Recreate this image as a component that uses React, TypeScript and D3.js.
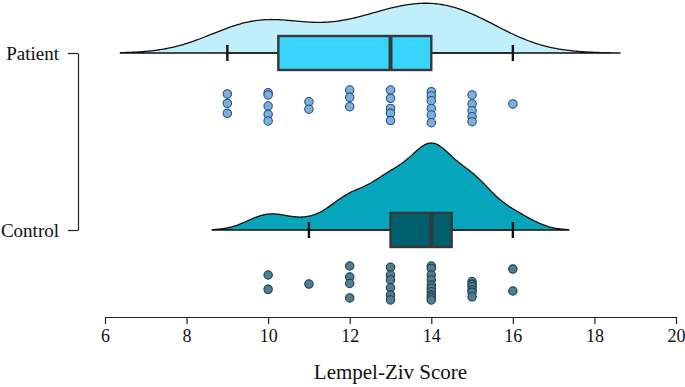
import React, { useEffect, useRef } from "react";
import * as d3 from "d3";

// raw scores
const groups = ["Patient", "Control"];
const patientScores = [
  9, 9, 9, 10, 10, 10, 10, 10, 11, 11, 12, 12, 12, 13, 13, 13, 13, 13,
  14, 14, 14, 14, 14, 14, 15, 15, 15, 15, 15, 16,
];
const patientJitter = [
  -0.71, -0.16, 0.43, -0.78, -0.65, 0, 0.49, 0.88, -0.25, 0.19, -0.94, -0.51,
  0.04, -0.94, -0.45, 0.14, 0.43, 0.86, -0.84, -0.59, -0.31, 0.14, 0.53, 0.98,
  -0.65, -0.12, 0.28, 0.63, 0.92, -0.12,
];
const controlScores = [
  10, 10, 11, 12, 12, 12, 12, 13, 13, 13, 13, 13, 13, 14, 14, 14, 14, 14, 14,
  14, 14, 14, 14, 15, 15, 15, 15, 15, 15, 16, 16,
];
const controlJitter = [
  -0.47, 0.37, 0.06, -1.0, -0.35, 0.03, 0.88, -0.92, -0.47, -0.18, 0.28, 0.71,
  1.0, -1.0, -0.86, -0.47, -0.18, 0.12, 0.31, 0.51, 0.71, 0.86, 1.0, -0.08,
  0.08, 0.22, 0.41, 0.55, 0.81, -0.82, 0.47,
];
const xTicks = [6, 8, 10, 12, 14, 16, 18, 20];
const xLabel = "Lempel-Ziv Score";

const densityFill = ["#c1eefb", "#05a5bb"];
const boxFill = ["#39d4fc", "#005f6c"];
const dotFill = ["#7eafd8", "#4e7f8c"];
const dotStroke = ["#24508a", "#1c3d53"];

const W = 685;
const H = 387;
const font = "'Liberation Serif', 'Times New Roman', serif";

// gaussian kde with R's nrd0 bandwidth
const kde = (values: number[]) => {
  const s = values.slice().sort(d3.ascending);
  const n = s.length;
  const q1 = d3.quantile(s, 0.25)!;
  const q3 = d3.quantile(s, 0.75)!;
  const sd = d3.deviation(s)!;
  const bw = 0.9 * Math.min(sd, (q3 - q1) / 1.34) * Math.pow(n, -0.2);
  const lo = s[0] - 2.7 * bw;
  const hi = s[n - 1] + 2.7 * bw;
  const pts: [number, number][] = d3.range(256).map((i) => {
    const x = lo + ((hi - lo) * i) / 255;
    const dens =
      d3.sum(s, (v) => Math.exp(-0.5 * ((x - v) / bw) ** 2)) /
      (n * bw * Math.sqrt(2 * Math.PI));
    return [x, dens];
  });
  return pts;
};

const boxStats = (values: number[]) => {
  const s = values.slice().sort(d3.ascending);
  const q1 = d3.quantile(s, 0.25)!;
  const med = d3.quantile(s, 0.5)!;
  const q3 = d3.quantile(s, 0.75)!;
  const iqr = q3 - q1;
  const lo = d3.min(s.filter((v) => v >= q1 - 1.5 * iqr))!;
  const hi = d3.max(s.filter((v) => v <= q3 + 1.5 * iqr))!;
  return { q1, med, q3, lo, hi };
};

export default function App() {
  const ref = useRef<SVGSVGElement>(null);

  useEffect(() => {
    document.body.style.margin = "0";
    const svg = d3.select(ref.current);
    svg.selectAll("*").remove();

    const x = d3.scaleLinear().domain([6, 20]).range([105, 676]);
    const y = d3.scalePoint<string>().domain(groups).range([53, 230]);
    const jitter = d3.scaleLinear().domain([-1, 1]).range([36, 70]);

    const series = [
      { name: groups[0], scores: patientScores, jit: patientJitter },
      { name: groups[1], scores: controlScores, jit: controlJitter },
    ];
    const densities = series.map((s) => kde(s.scores));
    const maxDens = d3.max(densities.flat(), (d) => d[1])!;
    const h = d3.scaleLinear().domain([0, maxDens]).range([0, 87]);

    series.forEach((s, i) => {
      const base = y(s.name)!;
      const g = svg.append("g");

      // half violin
      const area = d3
        .area<[number, number]>()
        .x((d) => x(d[0]))
        .y0(base)
        .y1((d) => base - h(d[1]))
        .curve(d3.curveBasis);
      g.append("path")
        .datum(densities[i])
        .attr("d", area)
        .attr("fill", densityFill[i])
        .attr("stroke", "#111")
        .attr("stroke-width", 1.3);

      // box + whiskers
      const b = boxStats(s.scores);
      g.append("line")
        .attr("x1", x(b.lo))
        .attr("x2", x(b.hi))
        .attr("y1", base)
        .attr("y2", base)
        .attr("stroke", "#222")
        .attr("stroke-width", 1.6);
      g.selectAll(".cap")
        .data([b.lo, b.hi])
        .enter()
        .append("line")
        .attr("x1", (d) => x(d))
        .attr("x2", (d) => x(d))
        .attr("y1", base - 8)
        .attr("y2", base + 8)
        .attr("stroke", "#111")
        .attr("stroke-width", 2.4);
      g.append("rect")
        .attr("x", x(b.q1))
        .attr("y", base - 17)
        .attr("width", x(b.q3) - x(b.q1))
        .attr("height", 34)
        .attr("fill", boxFill[i])
        .attr("stroke", "#383838")
        .attr("stroke-width", 2.4);
      g.append("line")
        .attr("x1", x(b.med))
        .attr("x2", x(b.med))
        .attr("y1", base - 17)
        .attr("y2", base + 17)
        .attr("stroke", "#383838")
        .attr("stroke-width", 4);

      // raw points
      g.selectAll(".dot")
        .data(s.scores)
        .enter()
        .append("circle")
        .attr("cx", (d) => x(d))
        .attr("cy", (d, j) => base + jitter(s.jit[j]))
        .attr("r", 4.2)
        .attr("fill", dotFill[i])
        .attr("stroke", dotStroke[i])
        .attr("stroke-width", 1.1);
    });

    // x axis
    const xa = svg
      .append("g")
      .attr("transform", "translate(0,317)")
      .call(d3.axisBottom(x).tickValues(xTicks).tickSize(7).tickSizeOuter(0).tickPadding(5));
    xa.attr("font-family", null).attr("font-size", null);
    xa.selectAll("path, line").attr("stroke", "#222").attr("stroke-width", 1.2);
    xa.selectAll("text")
      .style("font-family", font)
      .style("font-size", "18px")
      .attr("fill", "#111");

    svg
      .append("text")
      .attr("x", x(13))
      .attr("y", 379)
      .attr("text-anchor", "middle")
      .style("font-family", font)
      .style("font-size", "21px")
      .attr("fill", "#111")
      .text(xLabel);

    // group axis (bracket)
    const ya = svg
      .append("g")
      .attr("transform", "translate(78,0)")
      .call(d3.axisLeft(y).tickSize(10).tickSizeOuter(0).tickPadding(9));
    ya.attr("font-family", null).attr("font-size", null);
    ya.selectAll("path, line").attr("stroke", "#222").attr("stroke-width", 1.2);
    ya.selectAll("text")
      .style("font-family", font)
      .style("font-size", "19px")
      .attr("fill", "#111");
  }, []);

  return <svg ref={ref} width={W} height={H} style={{ display: "block" }} />;
}
